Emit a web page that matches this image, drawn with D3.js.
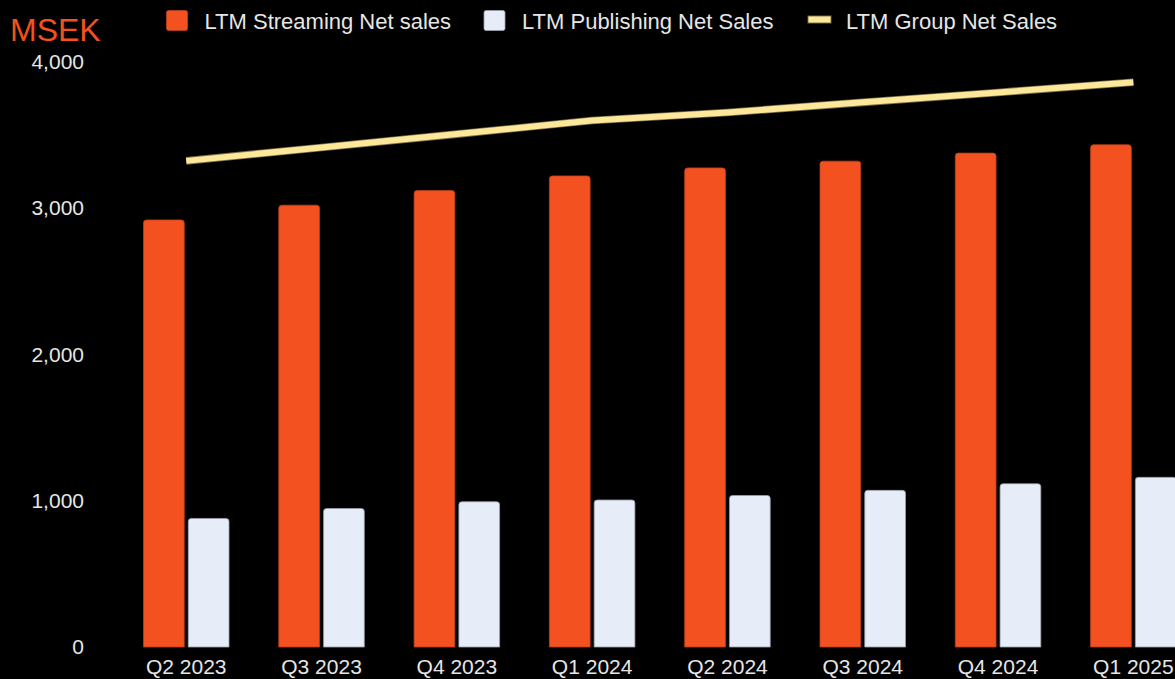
<!DOCTYPE html>
<html>
<head>
<meta charset="utf-8">
<script src="https://cdn.jsdelivr.net/npm/d3@7"></script>
<style>
  html, body { margin: 0; padding: 0; background: #000; overflow: hidden; }
  svg { display: block; font-family: "Liberation Sans", Arial, sans-serif; }
</style>
</head>
<body>
<svg id="chart" width="1175" height="679"></svg>
<script>
// Quarterly LTM net sales, MSEK
const quarters = ["Q2 2023", "Q3 2023", "Q4 2023", "Q1 2024", "Q2 2024", "Q3 2024", "Q4 2024", "Q1 2025"];
const streamingSales = [2920, 3021, 3121, 3221, 3276, 3322, 3377, 3434];
const publishingSales = [879, 947, 993, 1005, 1036, 1071, 1116, 1160];
const groupSales = [3324, 3416, 3507, 3600, 3655, 3724, 3792, 3861];
const yTicks = [0, 1000, 2000, 3000, 4000];
const seriesNames = ["LTM Streaming Net sales", "LTM Publishing Net Sales", "LTM Group Net Sales"];

const colors = {
  streaming: "#F45121",
  streamingEdge: "#B8401C",
  publishing: "#E7EDF8",
  publishingEdge: "#9AA0AA",
  group: "#FCE79A",
  groupEdge: "#7D7048",
  text: "#E6E6E6"
};

const svg = d3.select("#chart");

const x0 = d3.scaleBand()
  .domain(quarters)
  .range([118.6, 1201])
  .paddingInner(0.368)
  .paddingOuter(0.184);

const x1 = d3.scaleBand()
  .domain(["streaming", "publishing"])
  .range([0, x0.bandwidth()])
  .paddingInner(0.09);

const y = d3.scaleLinear().domain([0, 4000]).range([647, 62]);

// bar with slightly rounded top corners
function topRoundedBar(x, yTop, w, yBottom, r) {
  const p = d3.path();
  p.moveTo(x, yBottom);
  p.lineTo(x, yTop + r);
  p.quadraticCurveTo(x, yTop, x + r, yTop);
  p.lineTo(x + w - r, yTop);
  p.quadraticCurveTo(x + w, yTop, x + w, yTop + r);
  p.lineTo(x + w, yBottom);
  p.closePath();
  return p.toString();
}

// y axis labels
const yAxis = d3.axisLeft(y).tickValues(yTicks).tickSize(0).tickPadding(0)
  .tickFormat(d3.format(","));
const yg = svg.append("g").attr("transform", "translate(84,0)").call(yAxis);
yg.select(".domain").remove();
yg.selectAll("text")
  .attr("fill", colors.text)
  .style("font-size", "21px")
  .style("font-family", "'Liberation Sans', Arial, sans-serif");

// x axis labels
const xAxis = d3.axisBottom(x0).tickSize(0).tickPadding(0);
const xg = svg.append("g").attr("transform", "translate(0,659)").call(xAxis);
xg.select(".domain").remove();
xg.selectAll("text")
  .attr("fill", colors.text)
  .attr("dy", "0.71em")
  .style("font-size", "21px")
  .style("font-family", "'Liberation Sans', Arial, sans-serif");

// grouped bars
const groups = svg.append("g").selectAll("g")
  .data(quarters.map((q, i) => ({ q, streaming: streamingSales[i], publishing: publishingSales[i] })))
  .join("g")
  .attr("transform", d => `translate(${x0(d.q)},0)`);

groups.append("path")
  .attr("d", d => topRoundedBar(x1("streaming"), y(d.streaming), x1.bandwidth(), y(0), 3))
  .attr("fill", colors.streaming)
  .attr("stroke", colors.streamingEdge)
  .attr("stroke-width", 0.8);

groups.append("path")
  .attr("d", d => topRoundedBar(x1("publishing"), y(d.publishing), x1.bandwidth(), y(0), 3))
  .attr("fill", colors.publishing)
  .attr("stroke", colors.publishingEdge)
  .attr("stroke-width", 0.8);

// group net sales line
const line = d3.line()
  .x((d, i) => x0(quarters[i]) + x0.bandwidth() / 2)
  .y(d => y(d));

svg.append("path")
  .datum(groupSales)
  .attr("d", line)
  .attr("fill", "none")
  .attr("stroke", colors.groupEdge)
  .attr("stroke-width", 7.6);

svg.append("path")
  .datum(groupSales)
  .attr("d", line)
  .attr("fill", "none")
  .attr("stroke", colors.group)
  .attr("stroke-width", 6);

// unit label
svg.append("text")
  .attr("x", 10)
  .attr("y", 41)
  .attr("fill", "#F4511E")
  .style("font-size", "32px")
  .text("MSEK");

// legend
const legend = svg.append("g");
const legendItems = [
  { name: seriesNames[0], x: 166.5, type: "box", fill: colors.streaming, stroke: colors.streamingEdge },
  { name: seriesNames[1], x: 484, type: "box", fill: colors.publishing, stroke: colors.publishingEdge },
  { name: seriesNames[2], x: 808, type: "line", fill: colors.group, stroke: colors.groupEdge }
];
legendItems.forEach(it => {
  if (it.type === "box") {
    legend.append("rect")
      .attr("x", it.x).attr("y", 10.5)
      .attr("width", 21).attr("height", 20)
      .attr("rx", 2)
      .attr("fill", it.fill).attr("stroke", it.stroke).attr("stroke-width", 0.8);
  } else {
    legend.append("rect")
      .attr("x", it.x).attr("y", 16)
      .attr("width", 23).attr("height", 7)
      .attr("fill", it.fill).attr("stroke", it.stroke).attr("stroke-width", 0.9);
  }
  legend.append("text")
    .attr("x", it.x + 38)
    .attr("y", 28.5)
    .attr("fill", colors.text)
    .style("font-size", "22px")
    .text(it.name);
});
</script>
</body>
</html>
